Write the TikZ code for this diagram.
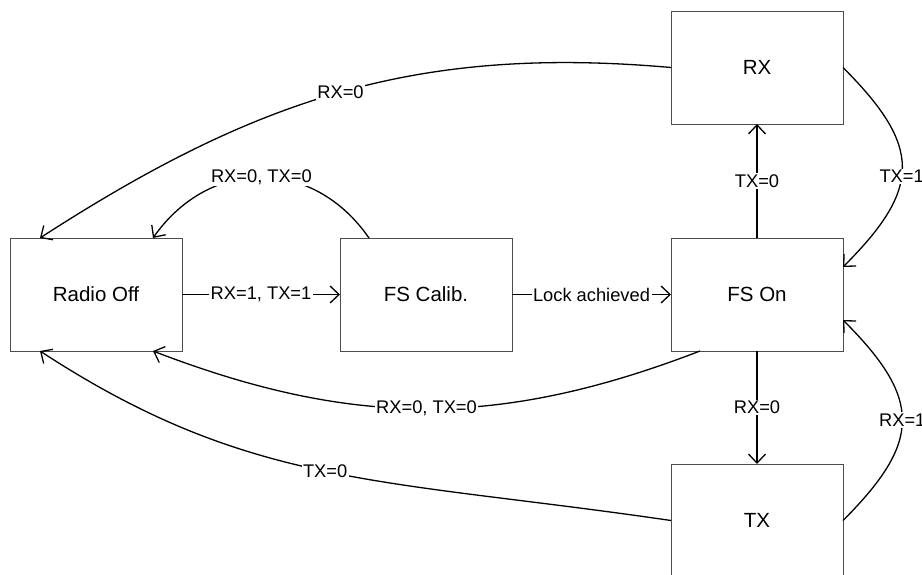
\documentclass[tikz,border=0pt]{standalone}
\usepackage{fontspec}
\setmainfont{Liberation Sans}
\usetikzlibrary{arrows.meta}
\begin{document}
\begin{tikzpicture}[x=1pt,y=-1pt,
  box/.style={draw=black!70, line width=0.9pt, minimum width=172pt, minimum height=113pt,
    inner sep=0pt, outer sep=0pt, font=\fontsize{20.5pt}{24pt}\selectfont},
  lbl/.style={fill=white, inner sep=1.5pt, font=\fontsize{18.3pt}{22pt}\selectfont},
  arr/.style={-{Straight Barb[length=9pt,width=17pt]}, line width=1.3pt, black}]
\useasboundingbox (0,0) rectangle (922,574);
\clip (0,0) rectangle (922,574);
\node[box] (off)   at (96,294.5)  {Radio Off};
\node[box] (calib) at (426,294.5) {FS Calib.};
\node[box] (fson)  at (757,294.5) {FS On};
\node[box] (rx)    at (757,67.5)  {RX};
\node[box] (tx)    at (757,520.5) {TX};
% straight transitions
\draw[arr] (off) -- node[lbl] {RX=1, TX=1} (calib);
\draw[arr] (calib) -- node[lbl] {Lock achieved} (fson);
\draw[arr] (fson) -- node[lbl] {TX=0} (rx);
\draw[arr] (fson) -- node[lbl] {RX=0} (tx);
% right loops
\draw[arr] (rx.east) .. controls (922,146.5) and (922,188) .. node[lbl,pos=0.55] {TX=1} ([yshift=27.5pt]fson.east);
\draw[arr] (tx.east) .. controls (922,441.5) and (922,399) .. node[lbl,pos=0.5] {RX=1} ([yshift=-25.5pt]fson.east);
% arcs back to Radio Off
\draw[arr] (rx.west) .. controls (416,45) and (255,99) .. node[lbl] {RX=0} ([xshift=-56pt]off.north);
\draw[arr] ([xshift=-57pt]calib.north) .. controls (313,157) and (210,157) .. node[lbl] {RX=0, TX=0} ([xshift=57pt]off.north);
\draw[arr] ([xshift=-57pt]fson.south) .. controls (500,428) and (353,428) .. node[lbl] {RX=0, TX=0} ([xshift=57pt]off.south);
\draw[arr] (tx.west) .. controls (380,478) and (250,488) .. node[lbl] {TX=0} ([xshift=-56pt]off.south);
\end{tikzpicture}
\end{document}
